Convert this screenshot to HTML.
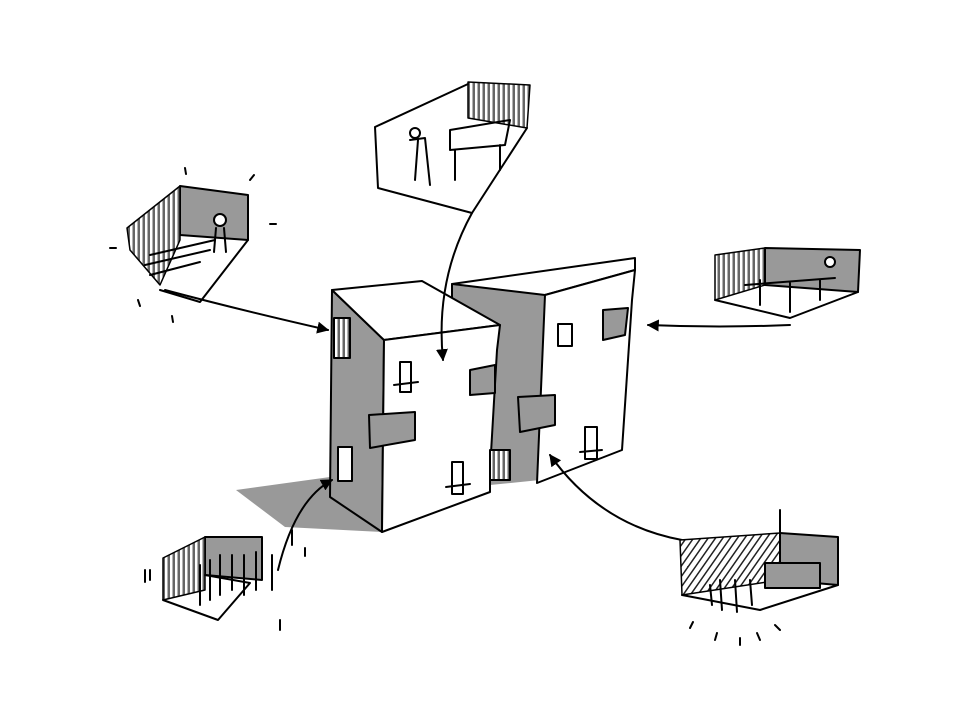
<!DOCTYPE html>
<html><head><style>body{margin:0;background:#fff}svg{display:block}</style></head><body>
<svg width="960" height="720" viewBox="0 0 960 720" xmlns="http://www.w3.org/2000/svg">
<defs>
<pattern id="st" width="5" height="10" patternUnits="userSpaceOnUse"><rect width="5" height="10" fill="#666"/><rect width="2.5" height="10" fill="#fff"/></pattern>
<pattern id="hat" width="6" height="6" patternUnits="userSpaceOnUse" patternTransform="rotate(35)"><rect width="6" height="6" fill="#fff"/><rect width="1.5" height="6" fill="#222"/></pattern>
<marker id="ar" viewBox="0 0 10 10" refX="9" refY="5" markerWidth="6" markerHeight="6" orient="auto"><path d="M0,0 L10,5 L0,10 z" fill="#000"/></marker>
</defs>
<g stroke="#000" stroke-width="2" fill="none" stroke-linejoin="round" stroke-linecap="round">
<polygon points="236,490 330,477 330,497 382,532 285,527" fill="#999" stroke="none"/>
<!-- right building -->
<polygon points="452,285 545,295 540,480 490,485 495,330 452,318" fill="#999" stroke="none"/>
<polygon points="452,284 635,258 635,270 545,295" fill="#fff"/>
<polygon points="545,295 635,270 632,300 622,450 537,483" fill="#fff"/>
<line x1="452" y1="284" x2="452" y2="318"/>
<!-- left building -->
<polygon points="332,290 384,340 382,532 330,497" fill="#999"/>
<polygon points="332,290 422,281 500,325 384,340" fill="#fff"/>
<polygon points="384,340 500,325 497,350 490,470 490,492 382,532" fill="#fff"/>
<rect x="400" y="362" width="11" height="30"/><line x1="394" y1="385" x2="418" y2="382"/>
<rect x="452" y="462" width="11" height="32"/><line x1="446" y1="487" x2="470" y2="484"/>
<rect x="558" y="324" width="14" height="22"/>
<rect x="585" y="427" width="12" height="32"/><line x1="580" y1="452" x2="602" y2="450"/>
<rect x="334" y="318" width="16" height="40" fill="url(#st)"/>
<rect x="338" y="447" width="14" height="34" fill="#fff"/>
<polygon points="369,415 415,412 415,440 370,448" fill="#999"/>
<polygon points="470,370 495,365 495,393 470,395" fill="#999"/>
<polygon points="518,397 555,395 555,425 520,432" fill="#999"/>
<polygon points="603,310 628,308 625,335 603,340" fill="#999"/>
<rect x="490" y="450" width="20" height="30" fill="url(#st)"/>
<!-- arrows -->
<path d="M165,290 Q240,310 328,330" marker-end="url(#ar)"/>
<path d="M472,213 Q435,280 443,360" marker-end="url(#ar)"/>
<path d="M790,325 Q720,328 648,325" marker-end="url(#ar)"/>
<path d="M278,570 Q295,500 332,480" marker-end="url(#ar)"/>
<path d="M682,540 Q600,525 550,455" marker-end="url(#ar)"/>
<!-- top vignette -->
<polygon points="468,82 530,85 527,128 468,118" fill="url(#st)" stroke-width="1.5"/>
<path d="M375,127 L468,84 M375,127 L378,188 L472,213 L527,128"/>
<path d="M410,140 L425,138 L430,185 M418,140 L415,180 M450,130 L510,120 L505,145 L450,150 Z M455,150 L455,180 M500,145 L500,170"/>
<circle cx="415" cy="133" r="5" fill="#fff"/>
<!-- left vignette -->
<polygon points="180,186 248,195 248,240 180,235" fill="#999"/>
<polygon points="127,228 180,186 180,240 160,285 130,250" fill="url(#st)" stroke-width="1.5"/>
<path d="M160,290 L200,302 L248,240 M150,255 L215,240 M145,265 L210,250 M150,275 L200,262"/>
<circle cx="220" cy="220" r="6" fill="#fff"/><path d="M216,228 L214,252 M224,228 L226,252"/>
<path d="M138,300 L140,306 M172,316 L173,322 M110,248 L116,248 M270,224 L276,224 M185,168 L186,174 M250,180 L254,175"/>
<!-- right vignette -->
<polygon points="715,255 765,248 765,285 715,300" fill="url(#st)" stroke-width="1.5"/>
<polygon points="765,248 860,250 858,292 765,285" fill="#999"/>
<path d="M715,300 L790,318 L858,292"/>
<path d="M745,285 L835,278 M760,280 L760,305 M790,282 L790,312 M820,280 L820,300"/>
<circle cx="830" cy="262" r="5" fill="#fff"/>
<!-- bottom-left vignette -->
<polygon points="205,537 262,537 262,580 205,575" fill="#999"/>
<polygon points="163,558 205,537 205,590 163,600" fill="url(#st)" stroke-width="1.5"/>
<path d="M163,600 L218,620 L250,583 L205,575"/>
<path d="M200,565 L200,605 M210,560 L210,600 M220,555 L220,595 M232,555 L232,590 M244,555 L244,595 M256,552 L256,590 M272,555 L272,590"/>
<path d="M145,570 L145,582 M150,570 L150,580 M280,620 L280,630 M305,548 L305,556 M292,530 L292,545"/>
<!-- bottom-right vignette -->
<polygon points="680,540 780,533 780,580 682,595" fill="url(#hat)" stroke-width="1.5"/>
<polygon points="780,533 838,537 838,585 780,580" fill="#999"/>
<path d="M682,595 L760,610 L838,585"/>
<rect x="765" y="563" width="55" height="25" fill="#999"/>
<path d="M710,585 L712,605 M720,580 L722,610 M735,580 L737,612 M750,580 L752,605 M780,510 L780,535"/>
<path d="M690,628 L693,622 M715,640 L717,633 M740,645 L740,638 M760,640 L757,633 M780,630 L775,625"/>
</g>
</svg>
</body></html>
